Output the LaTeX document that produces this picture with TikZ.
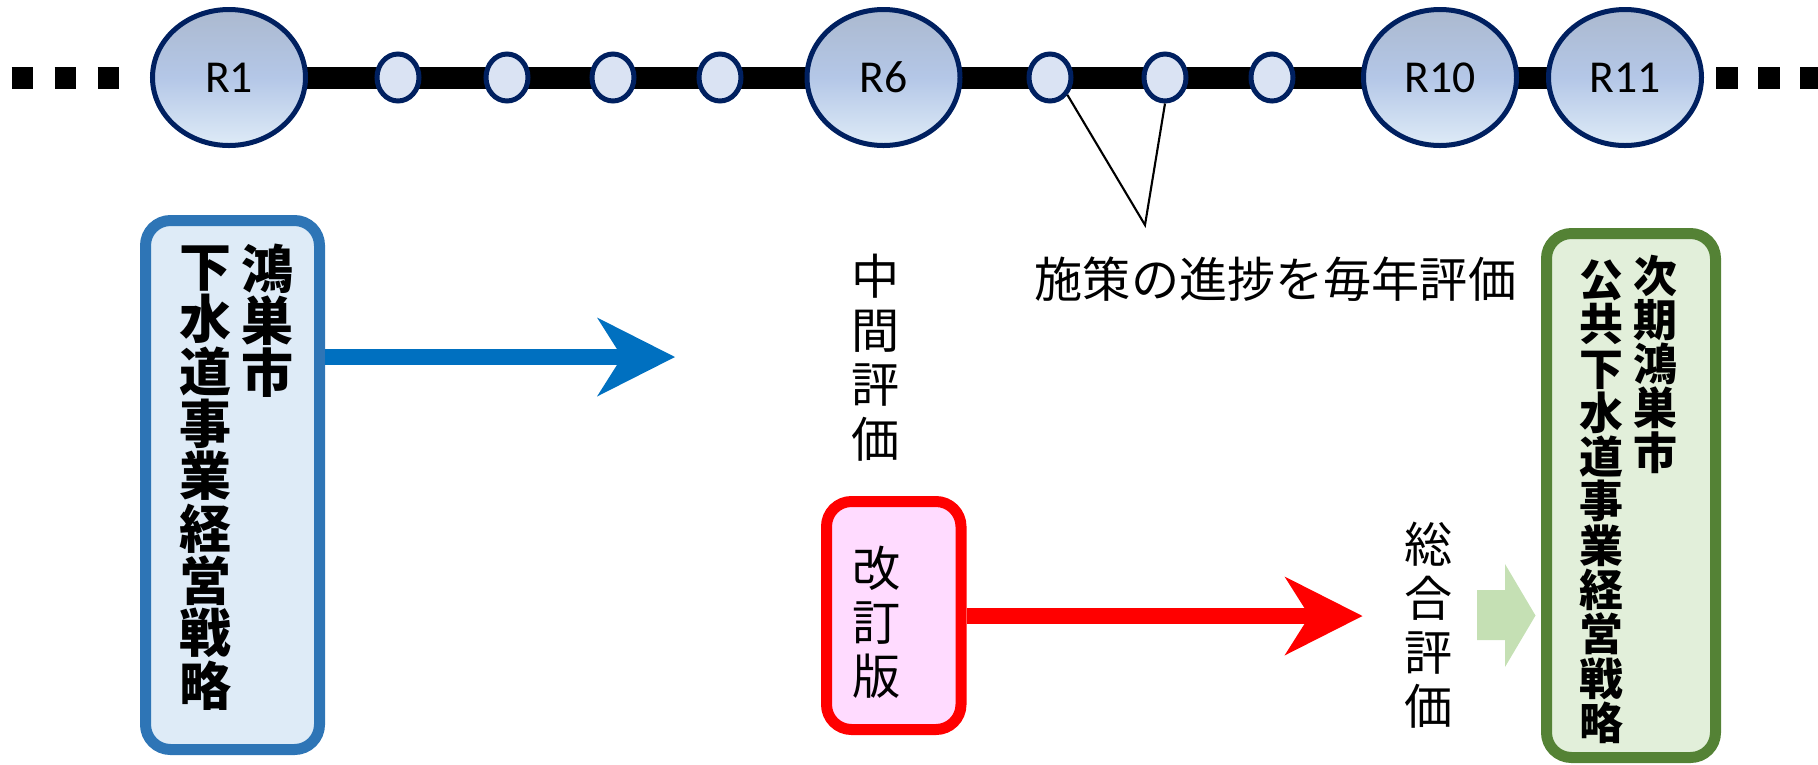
\documentclass[tikz,border=0pt]{standalone}
\usepackage{fontspec}
\usepackage{tikz,xcolor}
\usetikzlibrary{shapes.geometric,arrows.meta,backgrounds}

\newfontfamily\jpfont{Noto Sans CJK JP}
\newfontfamily\rfont{Carlito}
\setlength{\lineskiplimit}{-10pt}

% ── Colours ──
\definecolor{navy}{RGB}{0,32,96}
\definecolor{ovalTop}{RGB}{171,185,207}
\definecolor{ovalMid}{RGB}{180,199,231}
\definecolor{ovalBot}{RGB}{222,235,247}
\definecolor{dotFill}{RGB}{218,227,243}
\definecolor{blueLine}{RGB}{46,117,182}
\definecolor{blueFill}{RGB}{222,235,247}
\definecolor{blueArrow}{RGB}{0,112,192}
\definecolor{redFill}{RGB}{255,219,255}
\definecolor{greenLine}{RGB}{84,130,53}
\definecolor{greenFill}{RGB}{226,239,218}
\definecolor{greenArrow}{RGB}{197,224,180}

\begin{document}
\begin{tikzpicture}[
  oval/.style={ellipse, draw=navy, line width=0.05cm, inner sep=0pt,
    top color=ovalTop, bottom color=ovalBot, middle color=ovalMid,
    minimum width=1.53cm, minimum height=1.36cm, font=\rfont\fontsize{13pt}{15pt}\selectfont},
  dot/.style={ellipse, draw=navy, line width=0.05cm, fill=dotFill, inner sep=0pt,
    minimum width=0.42cm, minimum height=0.47cm},
  track/.style={line width=0.22cm, black},
  planbox/.style={rounded corners=0.25cm, line width=0.11cm, inner sep=0pt},
  tate/.style={align=center, inner sep=0pt,
    font=\jpfont\fontsize{13.7pt}{15.4pt}\selectfont},
  tatebig/.style={align=center, inner sep=0pt, anchor=north,
    font=\jpfont\bfseries\fontsize{14.8pt}{14.9pt}\selectfont},
  tatesmall/.style={align=center, inner sep=0pt, anchor=north,
    font=\jpfont\bfseries\fontsize{12.5pt}{12.6pt}\selectfont},
  flow/.style={line width=0.155cm,
    -{Stealth[length=0.78cm, width=0.79cm, inset=0.25cm, line width=0pt]}},
]
\useasboundingbox (0,0) rectangle (18.18,-7.64);

% ── Timeline ──
\node[oval] (R1)  at (2.29, -0.775) {R1};
\node[dot]  (s1)  at (3.98, -0.775) {};
\node[dot]  (s2)  at (5.07, -0.775) {};
\node[dot]  (s3)  at (6.13, -0.775) {};
\node[dot]  (s4)  at (7.20, -0.775) {};
\node[oval] (R6)  at (8.835,-0.775) {R6};
\node[dot]  (s5)  at (10.50,-0.775) {};
\node[dot]  (s6)  at (11.65,-0.775) {};
\node[dot]  (s7)  at (12.72,-0.775) {};
\node[oval] (R10) at (14.40,-0.775) {R10};
\node[oval] (R11) at (16.25,-0.775) {R11};

\coordinate (tailL)    at (0.117,-0.775);
\coordinate (tailLend) at (1.193,-0.775);
\coordinate (tailR)    at (17.16,-0.775);
\coordinate (tailRend) at (18.20,-0.775);

\begin{scope}[on background layer]
  \draw[track] (R1.center) -- (R11.center);
\end{scope}
\draw[track, dash pattern=on 0.216cm off 0.214cm] (tailL) -- (tailLend);
\draw[track, dash pattern=on 0.22cm off 0.20cm] (tailR) -- (tailRend);

% callout
\coordinate (noteTip) at (11.45,-2.25);
\draw[line width=0.6pt] (s5.-45) -- (noteTip) -- (s6.south);
\node[inner sep=0pt, font=\jpfont\fontsize{13.7pt}{15.4pt}\selectfont] (yearly) at (12.755,-2.79) {施策の進捗を毎年評価};

% ═══════════════════════════════════════
% PLANS
% ═══════════════════════════════════════
\node[planbox, draw=blueLine, fill=blueFill, minimum width=1.74cm, minimum height=5.29cm] (curPlan) at (2.325,-4.85) {};
\node[tatebig] (curCity) at (2.675,-2.43) {鴻\\巣\\市};
\node[tatebig] (curName) at (2.06,-2.45) {下\\水\\道\\事\\業\\経\\営\\戦\\略};

\node[tate] (midEval) at (8.753,-3.575) {中\\間\\評\\価};

\node[planbox, draw=red, fill=redFill, minimum width=1.345cm, minimum height=2.28cm] (revPlan) at (8.9375,-6.155) {};
\node[tate] (revName) at (8.77,-6.225) {改\\訂\\版};

\node[tate] (finalEval) at (14.285,-6.254) {総\\合\\評\\価};

\node[planbox, draw=greenLine, fill=greenFill, minimum width=1.69cm, minimum height=5.24cm] (nextPlan) at (16.31,-4.955) {};
\node[tatesmall] (nextCity) at (16.558,-2.54) {次\\期\\鴻\\巣\\市};
\node[tatesmall] (nextName) at (16.017,-2.59) {公\\共\\下\\水\\道\\事\\業\\経\\営\\戦\\略};

% ── Arrows ──
\coordinate (blueTip) at (6.75,-3.57);
\coordinate (redTip)  at (13.625,-6.16);
\draw[flow, blueArrow] (curPlan.east |- blueTip) -- (blueTip);
\draw[flow, red] (revPlan.east |- redTip) -- (redTip);

\fill[greenArrow] (14.77,-5.90) -- (15.05,-5.90) -- (15.05,-5.64) -- (15.355,-6.155)
  -- (15.05,-6.67) -- (15.05,-6.40) -- (14.77,-6.40) -- cycle;

\end{tikzpicture}
\end{document}
